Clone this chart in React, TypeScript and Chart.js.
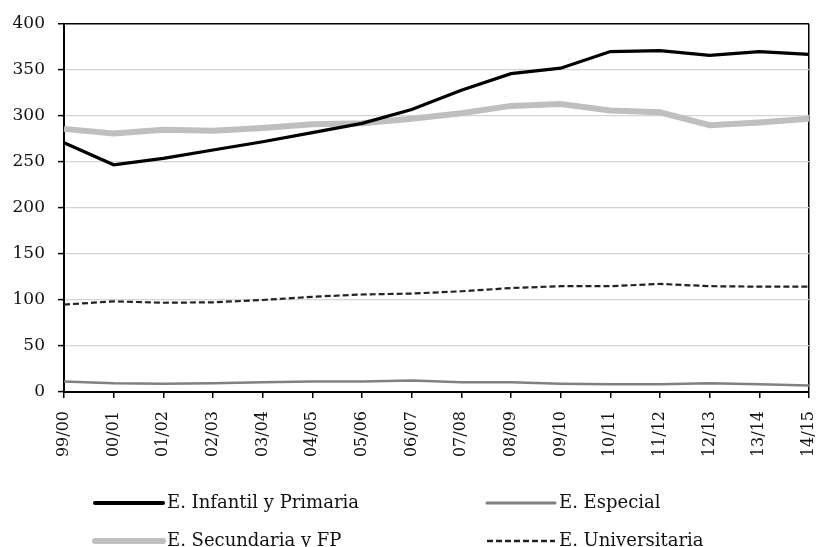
import React, { useEffect, useRef } from "react";
import { Chart, registerables } from "chart.js";

Chart.register(...registerables);

const categories = ["99/00", "00/01", "01/02", "02/03", "03/04", "04/05", "05/06", "06/07", "07/08", "08/09", "09/10", "10/11", "11/12", "12/13", "13/14", "14/15"];
const infantil = [271, 247, 254, 263, 272, 282, 292, 307, 328, 346, 352, 370, 371, 366, 370, 367];
const secundaria = [286, 281, 285, 284, 287, 291, 292, 297, 303, 311, 313, 306, 304, 290, 293, 297];
const especial = [11.5, 9.5, 9, 9.5, 10.5, 11.5, 11.5, 12.5, 10.5, 10.5, 9, 8.5, 8.5, 9.5, 8.5, 7];
const universitaria = [95, 98.5, 97, 97.5, 100, 103.5, 106, 107, 109.5, 113, 115, 115, 117.5, 115, 114.5, 114.5];
const yTicks = [0, 50, 100, 150, 200, 250, 300, 350, 400];

const FONT = '"DejaVu Serif", serif';

// legend grid: [datasetIndex, column, row]
const legendLayout = [
  [0, 0, 0],
  [2, 1, 0],
  [1, 0, 1],
  [3, 1, 1],
];
const legendCols = [95, 487];
const legendRows = [503, 541];
const legendLineLen = 68;

const gridLegend = {
  id: "gridLegend",
  afterDraw(chart: any) {
    const ctx = chart.ctx;
    ctx.save();
    legendLayout.forEach(([di, c, r]) => {
      const ds = chart.data.datasets[di];
      const x = legendCols[c];
      const y = legendRows[r];
      ctx.beginPath();
      ctx.strokeStyle = ds.borderColor;
      ctx.lineWidth = ds.legendWidth || ds.borderWidth;
      ctx.setLineDash(ds.borderDash || []);
      ctx.lineCap = ds.borderDash ? "butt" : "round";
      ctx.moveTo(x, y);
      ctx.lineTo(x + legendLineLen, y);
      ctx.stroke();
      ctx.setLineDash([]);
      ctx.fillStyle = "#111";
      ctx.font = "18px " + FONT;
      ctx.textBaseline = "middle";
      ctx.textAlign = "left";
      ctx.fillText(ds.label, x + legendLineLen + 4, y);
    });
    ctx.restore();
  },
};

export default function App() {
  const ref = useRef<HTMLCanvasElement>(null);
  useEffect(() => {
    if (!ref.current) return;
    const chart = new Chart(ref.current, {
      type: "line",
      data: {
        labels: categories,
        datasets: [
          { label: "E. Infantil y Primaria", data: infantil, borderColor: "#000000", borderWidth: 3.2, legendWidth: 4, pointRadius: 0, tension: 0, order: 1 } as any,
          { label: "E. Secundaria y FP", data: secundaria, borderColor: "#bfbfbf", borderWidth: 6, legendWidth: 6, pointRadius: 0, tension: 0, order: 2 } as any,
          { label: "E. Especial", data: especial, borderColor: "#808080", borderWidth: 2.5, legendWidth: 3, pointRadius: 0, tension: 0, order: 3 } as any,
          { label: "E. Universitaria", data: universitaria, borderColor: "#222222", borderWidth: 2.2, legendWidth: 2.5, borderDash: [6, 3], pointRadius: 0, tension: 0, order: 4 } as any,
        ],
      },
      options: {
        responsive: false,
        animation: false,
        layout: { padding: { top: 24, right: 11, bottom: 85, left: 0 } },
        plugins: { legend: { display: false }, tooltip: { enabled: false } },
        scales: {
          x: {
            offset: false,
            afterFit: (s: any) => { s.height = 70; s.paddingLeft = 0; s.paddingRight = 0; },
            border: { display: true, color: "#000", width: 2 },
            grid: {
              color: (c: any) => (c.index === categories.length - 1 ? "#000" : "rgba(0,0,0,0)"),
              lineWidth: 1.5,
              tickColor: "#000",
              tickLength: 6,
              tickWidth: 1.5,
            },
            ticks: {
              autoSkip: false,
              maxRotation: 90,
              minRotation: 90,
              padding: 13,
              color: "#111",
              font: { family: FONT, size: 16 },
            },
          },
          y: {
            min: 0,
            max: 400,
            afterFit: (s: any) => { s.width = 64; s.paddingTop = 0; s.paddingBottom = 0; },
            afterBuildTicks: (s: any) => { s.ticks = yTicks.map((v) => ({ value: v })); },
            border: { display: true, color: "#000", width: 2 },
            grid: {
              color: (c: any) => (c.tick && c.tick.value === 400 ? "#000" : "#d4d4d4"),
              lineWidth: (c: any) => (c.tick && c.tick.value === 400 ? 1.5 : 1.2),
              tickColor: "#000",
              tickLength: 6,
              tickWidth: 1.5,
            },
            ticks: {
              padding: 13,
              color: "#111",
              font: { family: FONT, size: 17 },
            },
          },
        },
      },
      plugins: [gridLegend],
    });
    return () => chart.destroy();
  }, []);
  return (
    <div style={{ position: "fixed", left: 0, top: 0, width: 820, height: 547, background: "#fff" }}>
      <canvas ref={ref} width={820} height={547} />
    </div>
  );
}
